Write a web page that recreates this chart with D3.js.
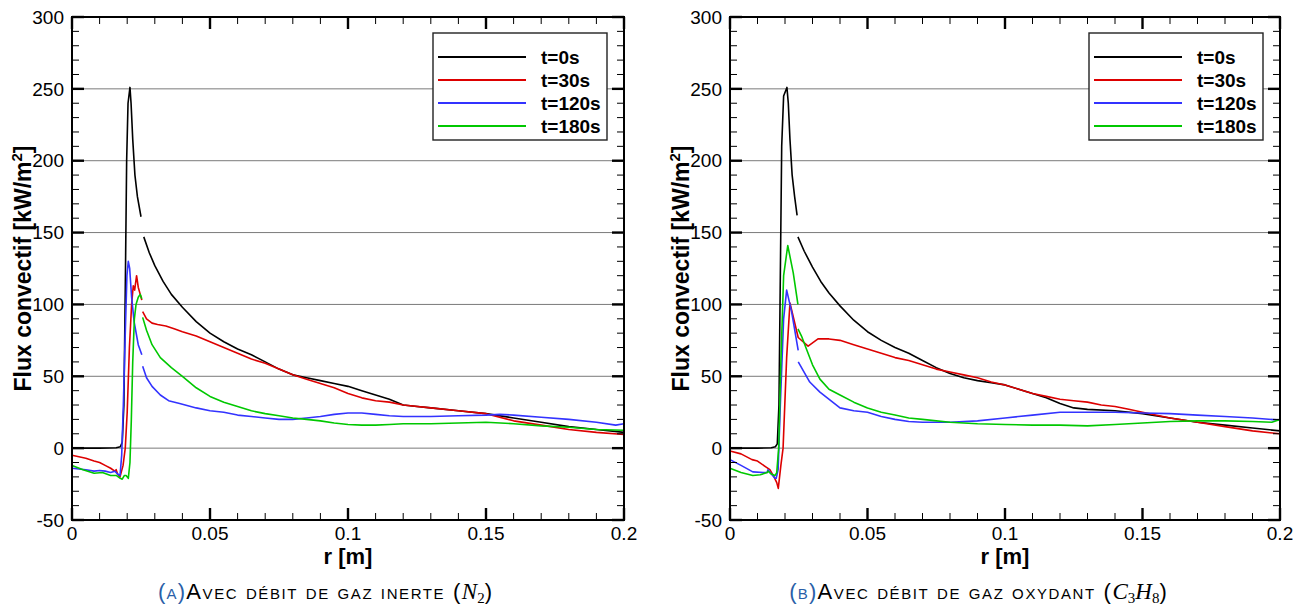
<!DOCTYPE html>
<html><head><meta charset="utf-8">
<script src="https://cdn.jsdelivr.net/npm/d3@7"></script>
<style>body{margin:0;background:#fff} svg{display:block}</style>
</head><body>
<svg id="chart" width="1305" height="608"></svg>
<script>
// ---- data ----
const seriesNames = ["t=0s", "t=30s", "t=120s", "t=180s"];
const xTicks = [0, 0.05, 0.1, 0.15, 0.2];
const xTickLabels = ["0", "0.05", "0.1", "0.15", "0.2"];
const yTicks = [-50, 0, 50, 100, 150, 200, 250, 300];
const yTickLabels = ["-50", "0", "50", "100", "150", "200", "250", "300"];
const gridValues = [0, 50, 100, 150, 200, 250];

// Panel A (N2) : [r, flux]; null = break between zones
const a_t0 = [[0,0],[0.010,0],[0.016,0.3],[0.0175,1],[0.0182,4],[0.0188,30],[0.0193,110],[0.0198,200],[0.0203,240],[0.0210,251],[0.0214,240],[0.0220,215],[0.0228,190],[0.0237,175],[0.0250,161],[0.0255,null],
  [0.0260,147],[0.028,136],[0.030,127],[0.033,116],[0.036,107],[0.040,98],[0.045,88],[0.050,80],[0.055,74],[0.060,69],[0.065,65],[0.070,60],[0.075,55],[0.080,51],[0.085,49],[0.090,47],[0.095,45],[0.100,43],[0.105,40],[0.110,37],[0.115,34],[0.120,30],[0.125,29],[0.130,28],[0.140,26],[0.150,24],[0.160,21],[0.170,18],[0.180,15],[0.190,13],[0.200,11]];
const a_t30 = [[0,-5],[0.005,-7],[0.008,-9],[0.010,-10],[0.012,-12],[0.014,-14],[0.0155,-16],[0.016,-15],[0.0165,-18],[0.0174,-20],[0.0185,-12],[0.0193,0],[0.0200,25],[0.0208,70],[0.0216,100],[0.0222,113],[0.0227,110],[0.0234,120],[0.0240,112],[0.0253,103],[0.02545,null],
  [0.0256,95],[0.027,90],[0.029,87],[0.031,86],[0.034,85],[0.037,83],[0.040,81],[0.045,78],[0.050,74],[0.055,70],[0.060,66],[0.065,62],[0.070,59],[0.075,55],[0.080,51],[0.085,48],[0.090,45],[0.095,42],[0.100,38],[0.105,35],[0.110,33],[0.115,32],[0.120,30],[0.130,28],[0.140,26],[0.150,24],[0.160,19],[0.170,16],[0.180,13],[0.190,11],[0.200,9.5]];
const a_t120 = [[0,-14],[0.005,-15],[0.008,-16],[0.010,-15.5],[0.012,-16],[0.014,-17],[0.0155,-16],[0.0165,-18],[0.0174,-19],[0.0180,-5],[0.0186,30],[0.0193,80],[0.0199,120],[0.0204,130],[0.0209,125],[0.0216,105],[0.0225,88],[0.0240,72],[0.0253,65],[0.02545,null],
  [0.0256,57],[0.027,49],[0.029,43],[0.032,37],[0.035,33],[0.039,31],[0.045,28],[0.050,26],[0.055,25],[0.060,23],[0.065,22],[0.070,21],[0.075,20],[0.080,20],[0.085,21],[0.090,22],[0.095,23.5],[0.100,24.5],[0.105,24.5],[0.110,23.5],[0.115,22.5],[0.120,22],[0.130,22],[0.140,22.5],[0.150,23],[0.155,23.5],[0.160,23],[0.170,21.5],[0.180,20],[0.190,18],[0.197,16],[0.200,17]];
const a_t180 = [[0,-12],[0.004,-15],[0.008,-17.5],[0.011,-17],[0.014,-19],[0.016,-19],[0.0175,-21],[0.0182,-21.6],[0.019,-19],[0.0196,-19],[0.0204,-21],[0.0210,-10],[0.0215,20],[0.0220,60],[0.0226,90],[0.0232,100],[0.0240,105],[0.0247,107],[0.0253,104],[0.02545,null],
  [0.0256,91],[0.027,82],[0.029,72],[0.032,63],[0.036,56],[0.040,50],[0.045,42],[0.050,36],[0.055,32],[0.060,29],[0.065,26],[0.070,24],[0.075,22.5],[0.080,21],[0.085,20],[0.090,19],[0.095,17.5],[0.100,16.5],[0.105,16],[0.110,16],[0.115,16.5],[0.120,17],[0.130,17],[0.140,17.5],[0.150,18],[0.160,17],[0.170,15.5],[0.180,14.5],[0.190,13],[0.200,12.5]];

// Panel B (C3H8)
const b_t0 = [[0,0],[0.010,0],[0.015,0.3],[0.0165,1],[0.0172,3],[0.0178,30],[0.0183,120],[0.0188,210],[0.0195,245],[0.0207,251],[0.0212,240],[0.0218,215],[0.0226,190],[0.0235,175],[0.0244,162],[0.02455,null],
  [0.0247,147],[0.027,137],[0.030,126],[0.033,116],[0.036,108],[0.040,99],[0.045,89],[0.050,81],[0.055,75],[0.060,70],[0.065,66],[0.070,61],[0.075,56],[0.080,52],[0.085,49],[0.090,47],[0.095,45.5],[0.100,44],[0.105,41],[0.110,38],[0.115,35],[0.120,31],[0.125,28],[0.130,27],[0.140,26],[0.150,24],[0.160,21],[0.170,18],[0.180,16],[0.190,14],[0.200,12]];
const b_t30 = [[0,-2],[0.004,-4],[0.008,-8],[0.010,-9],[0.013,-13],[0.0145,-15],[0.016,-20],[0.0170,-24],[0.01756,-28],[0.0185,-12],[0.0193,0],[0.0206,63],[0.0218,101],[0.0233,89],[0.0248,77],[0.0284,71],[0.0320,76],[0.0360,76],[0.040,75],[0.045,72],[0.050,69],[0.055,66],[0.060,63],[0.065,61],[0.070,58],[0.075,55],[0.080,53],[0.085,51],[0.090,49],[0.095,46],[0.100,44],[0.105,41],[0.110,38],[0.115,36],[0.120,34],[0.125,33],[0.130,32],[0.135,30],[0.140,29],[0.145,27],[0.150,25],[0.160,21],[0.170,18],[0.180,15],[0.190,12],[0.200,10]];
const b_t120 = [[0,-8],[0.004,-12],[0.0083,-16.5],[0.012,-17],[0.0135,-17],[0.0138,-15],[0.015,-18],[0.0164,-21],[0.0168,-21],[0.0175,-15],[0.0183,30],[0.0195,90],[0.0206,110],[0.0224,95],[0.0248,68],[0.02481,null],
  [0.02482,60],[0.029,46],[0.0327,39],[0.040,28],[0.045,26],[0.050,25],[0.055,22],[0.060,20],[0.065,18.5],[0.070,18],[0.080,18],[0.090,19],[0.100,21],[0.110,23],[0.120,25],[0.130,25],[0.140,25],[0.150,24.5],[0.160,24],[0.170,23],[0.180,22],[0.190,21],[0.200,19.5]];
const b_t180 = [[0,-14],[0.004,-17],[0.0083,-19],[0.011,-18.5],[0.0135,-17],[0.0138,-16],[0.015,-18],[0.0164,-19],[0.017,-17],[0.0177,0],[0.0185,60],[0.0195,120],[0.0210,141],[0.0230,122],[0.0247,100],[0.02471,null],
  [0.02472,83],[0.026,78],[0.028,68],[0.030,58],[0.0327,48],[0.036,41],[0.040,37],[0.045,32],[0.050,28],[0.055,25],[0.060,23],[0.065,21],[0.070,20],[0.080,18],[0.090,17],[0.100,16.5],[0.110,16],[0.120,16],[0.130,15.5],[0.140,16.5],[0.150,17.5],[0.160,18.5],[0.170,19],[0.180,19],[0.190,18.5],[0.197,18],[0.200,20]];

// ---- style / layout ----
const colors = ["#000000", "#dd0000", "#3333ff", "#00c800"];
const panels = [
  {x0: 72, x1: 624, series: [a_t0, a_t30, a_t120, a_t180], tag: "(a)", caption: "Avec débit de gaz inerte", math: [["N", "2"]], capX: 325},
  {x0: 730, x1: 1280, series: [b_t0, b_t30, b_t120, b_t180], tag: "(b)", caption: "Avec débit de gaz oxydant", math: [["C", "3"], ["H", "8"]], capX: 978}
];
const yTop = 17, yBot = 520;
const sans = "'Liberation Sans', Arial, Helvetica, sans-serif";
const serif = "'Liberation Serif', 'DejaVu Serif', serif";

const svg = d3.select("#chart");

panels.forEach(p => {
  const x = d3.scaleLinear().domain([0, 0.2]).range([p.x0, p.x1]);
  const y = d3.scaleLinear().domain([-50, 300]).range([yBot, yTop]);
  const g = svg.append("g");

  // grid
  g.selectAll("line.grid").data(gridValues).enter().append("line")
    .attr("x1", p.x0).attr("x2", p.x1)
    .attr("y1", d => y(d)).attr("y2", d => y(d))
    .attr("stroke", "#7a7a7a").attr("stroke-width", 1);

  // curves
  const line = d3.line().defined(d => d[1] !== null).x(d => x(d[0])).y(d => y(d[1]));
  p.series.forEach((s, i) => {
    g.append("path").datum(s).attr("d", line)
      .attr("fill", "none").attr("stroke", colors[i]).attr("stroke-width", 1.6)
      .attr("stroke-linejoin", "round");
  });

  // frame
  g.append("rect").attr("x", p.x0).attr("y", yTop).attr("width", p.x1 - p.x0).attr("height", yBot - yTop)
    .attr("fill", "none").attr("stroke", "#000").attr("stroke-width", 2);

  // ticks y (inside, both sides)
  const yMinor = d3.range(-50, 301, 10);
  yMinor.forEach(v => {
    const major = v % 50 === 0;
    const len = major ? 12 : 7;
    [[p.x0, p.x0 + len], [p.x1, p.x1 - len]].forEach(([a, b]) => {
      g.append("line").attr("x1", a).attr("x2", b).attr("y1", y(v)).attr("y2", y(v))
        .attr("stroke", "#000").attr("stroke-width", major ? 2.4 : 1);
    });
  });
  // ticks x (inside, bottom and top)
  const xMinor = d3.range(0, 21).map(k => k / 100);
  xMinor.forEach((v, k) => {
    const major = k % 5 === 0;
    const len = major ? 12 : 7;
    [[yBot, yBot - len], [yTop, yTop + len]].forEach(([a, b]) => {
      g.append("line").attr("x1", x(v)).attr("x2", x(v)).attr("y1", a).attr("y2", b)
        .attr("stroke", "#000").attr("stroke-width", major ? 2.4 : 1);
    });
  });

  // tick labels
  g.selectAll("text.yl").data(yTicks).enter().append("text")
    .attr("x", p.x0 - 8).attr("y", d => y(d)).attr("dy", "0.35em")
    .attr("text-anchor", "end").attr("font-family", sans).attr("font-size", 19)
    .text((d, i) => yTickLabels[i]);
  g.selectAll("text.xl").data(xTicks).enter().append("text")
    .attr("x", d => x(d)).attr("y", yBot + 20)
    .attr("text-anchor", "middle").attr("font-family", sans).attr("font-size", 19)
    .text((d, i) => xTickLabels[i]);

  // axis titles
  g.append("text").attr("x", (p.x0 + p.x1) / 2).attr("y", 564)
    .attr("text-anchor", "middle").attr("font-family", sans).attr("font-weight", "bold").attr("font-size", 22)
    .text("r [m]");
  const yt = g.append("text")
    .attr("transform", `translate(${p.x0 - 41},${(yTop + yBot) / 2}) rotate(-90)`)
    .attr("text-anchor", "middle").attr("font-family", sans).attr("font-weight", "bold").attr("font-size", 23);
  yt.append("tspan").text("Flux convectif [kW/m");
  yt.append("tspan").attr("font-size", 15).attr("dy", -9).text("2");
  yt.append("tspan").attr("dy", 9).text("]");

  // legend
  const lx = p.x1 - 191, ly = 33, lw = 174, lh = 107;
  const lg = g.append("g");
  lg.append("rect").attr("x", lx).attr("y", ly).attr("width", lw).attr("height", lh)
    .attr("fill", "#fff").attr("stroke", "#222").attr("stroke-width", 1.4);
  seriesNames.forEach((n, i) => {
    const yy = ly + 24 + i * 23;
    lg.append("line").attr("x1", lx + 5).attr("x2", lx + 93).attr("y1", yy).attr("y2", yy)
      .attr("stroke", colors[i]).attr("stroke-width", 1.8);
    lg.append("text").attr("x", lx + 108).attr("y", yy).attr("dy", "0.36em")
      .attr("font-family", sans).attr("font-weight", "bold").attr("font-size", 19).text(n);
  });

  // caption
  const cap = svg.append("text").attr("x", p.capX).attr("y", 599).attr("text-anchor", "middle")
    .attr("font-family", sans).attr("font-size", 22);
  cap.append("tspan").attr("fill", "#2a5fa8").style("font-variant", "small-caps").style("letter-spacing", "1.2px").text(p.tag);
  cap.append("tspan").style("font-variant", "small-caps").style("letter-spacing", "1.6px").text(p.caption + " (");
  let shift = 0;
  p.math.forEach(([v, sub]) => {
    cap.append("tspan").attr("font-family", serif).attr("font-style", "italic").attr("font-size", 23)
      .attr("dy", -shift).text(v);
    cap.append("tspan").attr("font-family", serif).attr("font-size", 15).attr("dy", 4).text(sub);
    shift = 4;
  });
  cap.append("tspan").attr("dy", -shift).text(")");
});
</script>
</body></html>
